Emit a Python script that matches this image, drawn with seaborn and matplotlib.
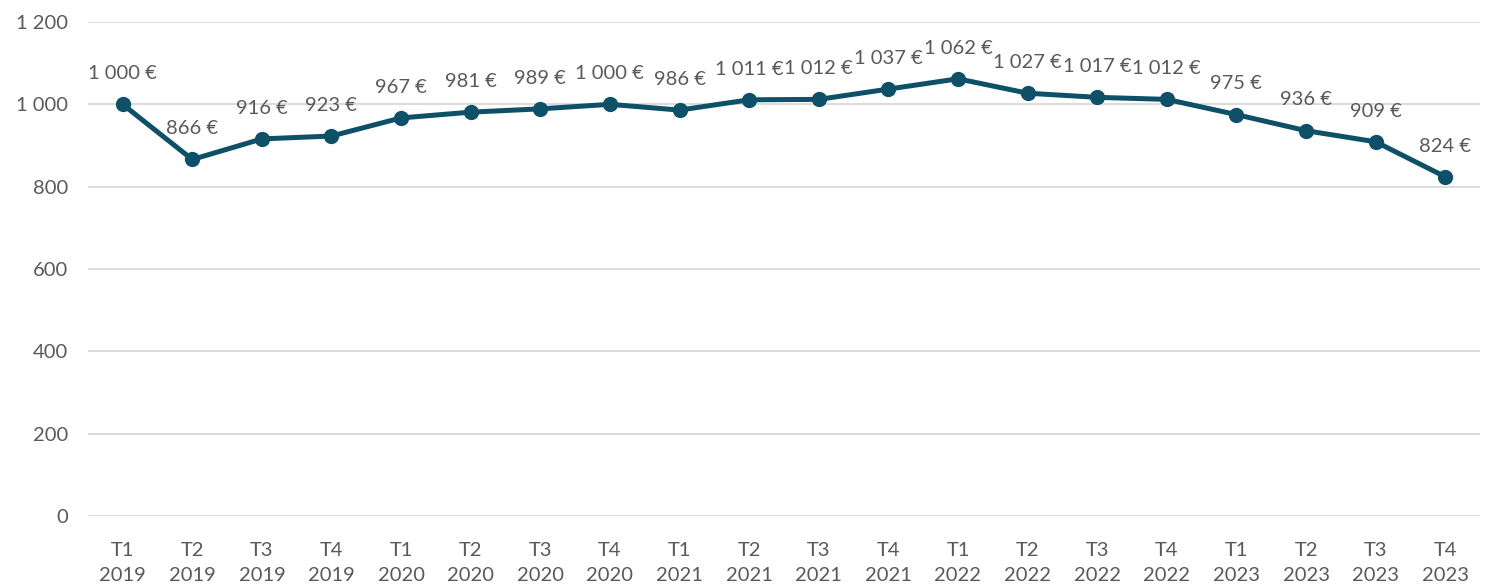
import matplotlib
matplotlib.use('Agg')
import matplotlib.pyplot as plt
import pandas as pd
import seaborn as sns

quarters = ['T1', 'T2', 'T3', 'T4'] * 5
years = ['2019'] * 4 + ['2020'] * 4 + ['2021'] * 4 + ['2022'] * 4 + ['2023'] * 4
values = [1000, 866, 916, 923, 967, 981, 989, 1000, 986, 1011,
          1012, 1037, 1062, 1027, 1017, 1012, 975, 936, 909, 824]
labels = ['{}\n{}'.format(q, y) for q, y in zip(quarters, years)]

df = pd.DataFrame({'period': labels, 'value': values})

sns.set_theme(style='white')
plt.rcParams['font.family'] = ['Lato', 'DejaVu Sans']
text_color = '#595959'
line_color = '#0D5068'

fig = plt.figure(figsize=(14.89, 5.88), dpi=100)
ax = fig.add_axes([0.059, 0.1224, 0.935, 0.8402])

sns.lineplot(x='period', y='value', data=df, sort=False, color=line_color,
             linewidth=3.6, marker='o', markersize=11, markeredgewidth=0, ax=ax)

def fmt(v):
    return '{:,}'.format(v).replace(',', ' ')

for i, v in enumerate(values):
    ax.annotate(fmt(v) + ' €', (i, v), xytext=(0, 16), textcoords='offset points',
                ha='center', va='bottom', fontsize=14.5, color=text_color)

ax.set_ylim(0, 1200)
ax.set_xlim(-0.5, len(values) - 0.5)
ax.set_yticks(range(0, 1201, 200))
ax.set_yticklabels([fmt(t) for t in range(0, 1201, 200)])
ax.yaxis.grid(True, color='#D9D9D9', linewidth=1.3)
ax.set_axisbelow(True)
for s in ax.spines.values():
    s.set_visible(False)
ax.tick_params(axis='both', colors=text_color, labelsize=14.5, length=0)
ax.tick_params(axis='x', pad=19)
ax.tick_params(axis='y', pad=14)
for t in ax.get_xticklabels():
    t.set_linespacing(1.55)
ax.set_xlabel('')
ax.set_ylabel('')

fig.savefig('out.png', dpi=100)
